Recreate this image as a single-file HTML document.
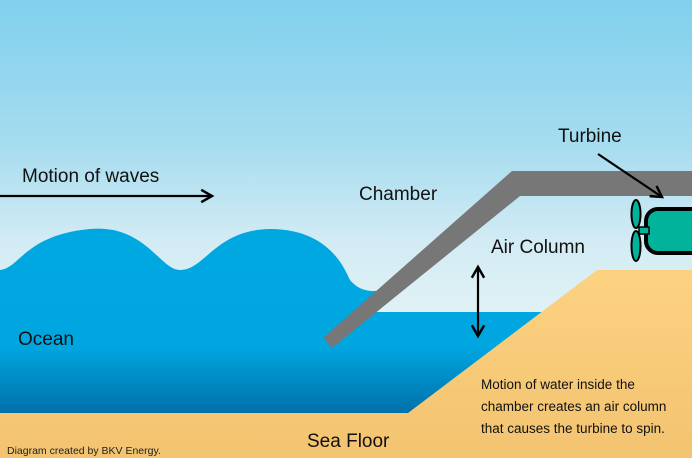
<!DOCTYPE html>
<html><head><style>html,body{margin:0;padding:0;width:692px;height:458px;overflow:hidden}</style></head>
<body>
<svg width="692" height="458" viewBox="0 0 692 458" xmlns="http://www.w3.org/2000/svg" font-family="Liberation Sans, sans-serif">
<defs>
<linearGradient id="sky" gradientUnits="userSpaceOnUse" x1="0" y1="0" x2="0" y2="320">
<stop offset="0" stop-color="#80d0ee"/><stop offset="0.45" stop-color="#a6dcef"/><stop offset="0.75" stop-color="#d2ebf4"/><stop offset="1" stop-color="#e2f2f6"/></linearGradient>
<linearGradient id="sea" gradientUnits="userSpaceOnUse" x1="0" y1="225" x2="0" y2="413">
<stop offset="0" stop-color="#00a8e2"/><stop offset="0.65" stop-color="#00a6e0"/><stop offset="1" stop-color="#0070a8"/></linearGradient>
<linearGradient id="sand" x1="0" y1="0" x2="0" y2="1">
<stop offset="0" stop-color="#fcd281"/><stop offset="1" stop-color="#f3c370"/></linearGradient>
<marker id="ah" viewBox="0 0 10 10" refX="8" refY="5" markerWidth="7" markerHeight="7" orient="auto-start-reverse"><path d="M1 1 L8 5 L1 9" fill="none" stroke="#000" stroke-width="1.6"/></marker>
</defs>
<rect width="692" height="458" fill="url(#sky)"/>
<!-- ocean -->
<path d="M0 270 C20 268 25 235 90 229 C145 224 160 270 180 270 C205 270 215 230 270 229 C330 229 345 270 350 280 C360 292 372 292 385 290 L395 312 L692 312 L692 413 L0 413 Z" fill="url(#sea)"/>
<!-- sky inside chamber above water -->
<polygon points="376,312 520,196 692,196 692,312" fill="url(#sky)"/>
<!-- sand -->
<polygon points="408,413 597,270 692,270 692,458 0,458 0,413" fill="url(#sand)"/>
<!-- chamber wall -->
<polygon points="323,338 512,171 692,171 692,196 520,196 332,348" fill="#777"/>
<!-- turbine -->
<rect x="646" y="209" width="60" height="44" rx="12" fill="#00b39a" stroke="#000" stroke-width="4"/>
<rect x="639" y="227" width="10" height="7" fill="#00b39a" stroke="#000" stroke-width="1.5"/>
<ellipse cx="636" cy="214" rx="4.5" ry="14" fill="#00b39a" stroke="#000" stroke-width="2"/>
<ellipse cx="636" cy="246" rx="4.5" ry="15" fill="#00b39a" stroke="#000" stroke-width="2"/>
<!-- arrows -->
<line x1="0" y1="196" x2="212" y2="196" stroke="#000" stroke-width="2.2" marker-end="url(#ah)"/>
<line x1="598" y1="154" x2="662" y2="197" stroke="#000" stroke-width="2.2" marker-end="url(#ah)"/>
<line x1="478" y1="267" x2="478" y2="336" stroke="#000" stroke-width="2.2" marker-start="url(#ah)" marker-end="url(#ah)"/>
<!-- text -->
<g fill="#111" font-size="19">
<text x="22" y="182">Motion of waves</text>
<text x="359" y="200">Chamber</text>
<text x="558" y="142">Turbine</text>
<text x="491" y="253">Air Column</text>
<text x="18" y="345">Ocean</text>
<text x="307" y="447">Sea Floor</text>
</g>
<g fill="#111" font-size="13.5">
<text x="481" y="389">Motion of water inside the</text>
<text x="481" y="411">chamber creates an air column</text>
<text x="481" y="433">that causes the turbine to spin.</text>
</g>
<text x="7" y="454" font-size="10.5" fill="#222">Diagram created by BKV Energy.</text>
</svg>
</body></html>
